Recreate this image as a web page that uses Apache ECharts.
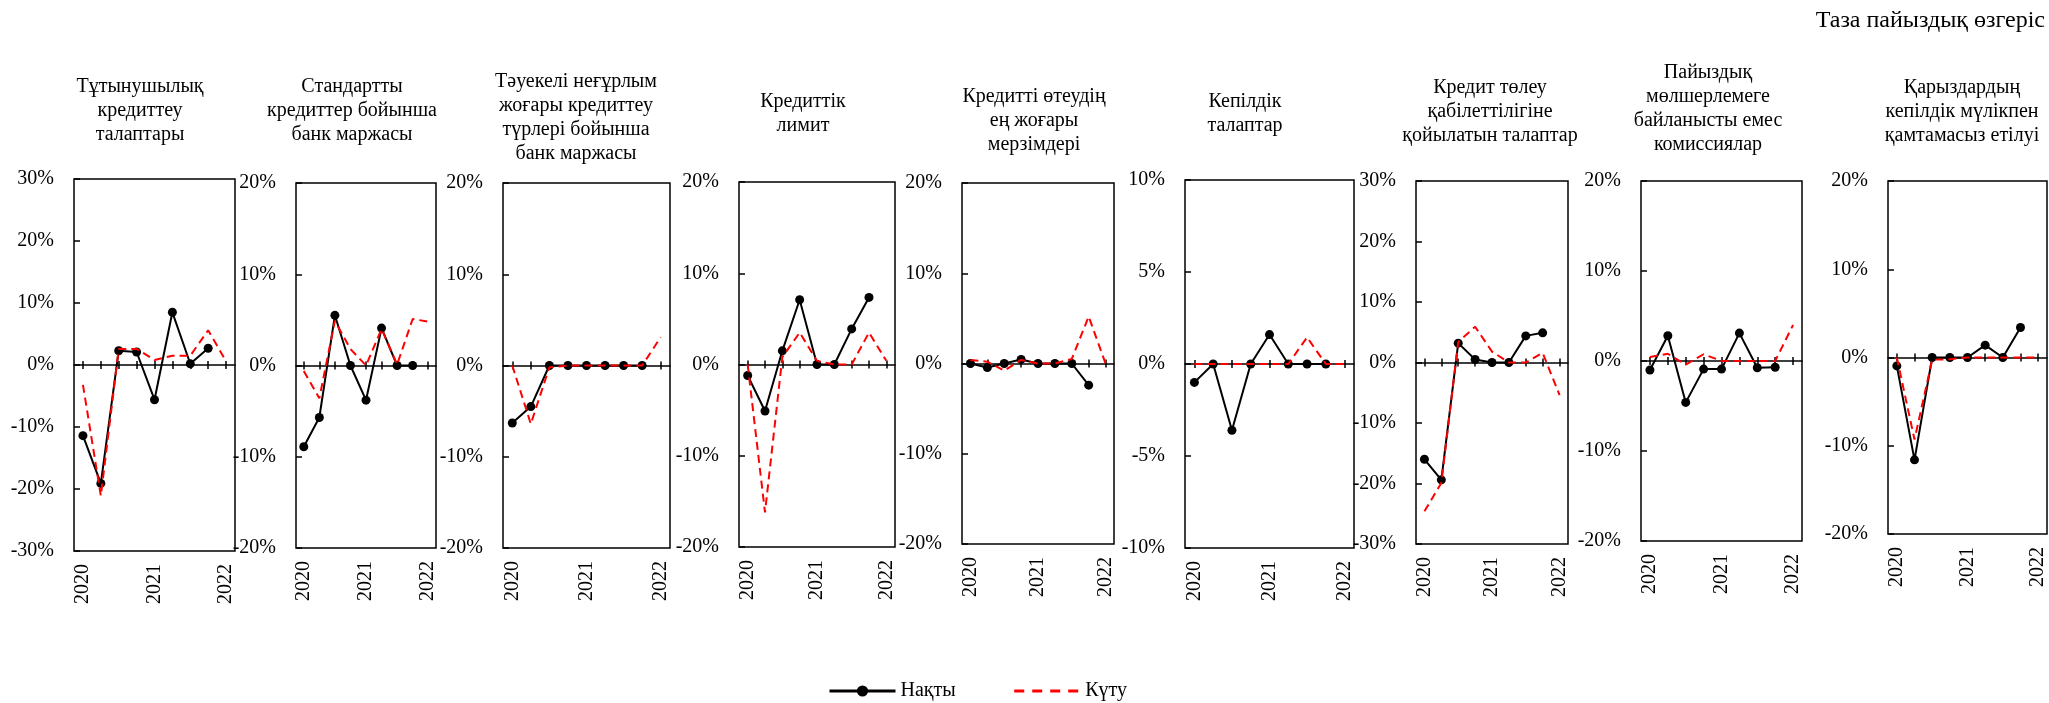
<!DOCTYPE html>
<html>
<head>
<meta charset="utf-8">
<script src="https://cdn.jsdelivr.net/npm/echarts@6/dist/echarts.min.js"></script>
<style>
  html, body { margin: 0; padding: 0; background: #fff; }
  #chart { width: 2049px; height: 703px; }
</style>
</head>
<body>
<div id="chart"></div>
<script>
const quarters = ['2020 Q1', '2020 Q2', '2020 Q3', '2020 Q4', '2021 Q1', '2021 Q2', '2021 Q3', '2021 Q4', '2022 Q1'];
const yearTicks = ['2020', '', '', '', '2021', '', '', '', '2022'];

const panelTitles = [
  'Тұтынушылық\nкредиттеу\nталаптары',
  'Стандартты\nкредиттер бойынша\nбанк маржасы',
  'Тәуекелі неғұрлым\nжоғары кредиттеу\nтүрлері бойынша\nбанк маржасы',
  'Кредиттік\nлимит',
  'Кредитті өтеудің\nең жоғары\nмерзімдері',
  'Кепілдік\nталаптар',
  'Кредит төлеу\nқабілеттілігіне\nқойылатын талаптар',
  'Пайыздық\nмөлшерлемеге\nбайланысты емес\nкомиссиялар',
  'Қарыздардың\nкепілдік мүлікпен\nқамтамасыз етілуі'
];

const axisMin = [-30, -20, -20, -20, -20, -10, -30, -20, -20];
const axisMax = [30, 20, 20, 20, 20, 10, 30, 20, 20];
const axisStep = [10, 10, 10, 10, 10, 5, 10, 10, 10];

// фактілер (8 тоқсан) және күтулер (9 тоқсан), %
const consumerActual = [-11.4, -19.1, 2.3, 2.1, -5.6, 8.5, 0.2, 2.7];
const consumerExpected = [-3.2, -21.1, 2.6, 2.6, 0.8, 1.5, 1.5, 5.6, 0.6];
const marginActual = [-8.9, -5.7, 5.5, 0, -3.8, 4.1, 0, 0];
const marginExpected = [-0.6, -3.6, 4.9, 1.8, 0, 4.0, 0.1, 5.1, 4.8];
const riskyActual = [-6.3, -4.5, 0, 0, 0, 0, 0, 0];
const riskyExpected = [0, -6.4, -0.2, 0, 0, 0, 0, 0, 3.1];
const limitActual = [-1.2, -5.1, 1.5, 7.1, 0, 0, 3.9, 7.35];
const limitExpected = [0, -16.2, 0.8, 3.5, 0.4, 0, 0, 3.5, 0.4];
const maturityActual = [0, -0.45, 0, 0.45, 0, 0, 0, -2.4];
const maturityExpected = [0.4, 0.2, -0.8, 0.4, 0, 0, 0.5, 5.2, 0];
const collateralActual = [-1.0, 0, -3.6, 0, 1.6, 0, 0, 0];
const collateralExpected = [0, 0, 0, 0, 0, 0, 1.45, 0, 0];
const solvencyActual = [-16.0, -19.4, 3.2, 0.5, 0, 0, 4.4, 4.9];
const solvencyExpected = [-24.6, -19.9, 3.4, 5.9, 1.8, 0, 0, 1.6, -5.4];
const feesActual = [-1.0, 2.8, -4.6, -0.9, -0.9, 3.1, -0.75, -0.7];
const feesExpected = [0.45, 0.8, -0.4, 0.75, 0, 0, 0, 0, 4.0];
const securedActual = [-0.95, -11.6, 0, 0, 0, 1.4, 0, 3.4];
const securedExpected = [0, -9.3, -0.25, -0.2, 0, 0, 0, 0, 0];

const actualData = [consumerActual, marginActual, riskyActual, limitActual, maturityActual,
  collateralActual, solvencyActual, feesActual, securedActual];
const expectedData = [consumerExpected, marginExpected, riskyExpected, limitExpected, maturityExpected,
  collateralExpected, solvencyExpected, feesExpected, securedExpected];

// plot boxes: [left, top, width, height]
const boxes = [
  [74, 179, 161, 372],
  [296, 183, 140, 365],
  [503, 183, 167, 365],
  [739, 182, 156, 365],
  [962, 183, 152, 361],
  [1185, 180, 169, 368],
  [1416, 181, 152, 363],
  [1641, 181, 161, 360],
  [1888, 181, 159, 353]
];
// title centre x, first line centre y
const titlePos = [[140, 87], [352, 87], [576, 82], [803, 102], [1034, 97], [1245, 102], [1490, 88], [1708, 73], [1962, 88]];

const FONT = "'Liberation Serif', 'DejaVu Serif', serif";
const chart = echarts.init(document.getElementById('chart'));

const grid = [], xAxis = [], yAxis = [], series = [], graphic = [];

boxes.forEach((b, i) => {
  grid.push({
    left: b[0], top: b[1], width: b[2], height: b[3],
    show: true, borderColor: '#000', borderWidth: 1.5, backgroundColor: 'transparent',
    containLabel: false, outerBoundsMode: 'none'
  });
  // year labels at the bottom of the box
  xAxis.push({
    type: 'category', gridIndex: i, data: quarters, boundaryGap: true, position: 'bottom',
    axisLine: { show: false, onZero: false },
    axisTick: { show: false },
    splitLine: { show: false },
    axisLabel: {
      interval: 0, rotate: 90, margin: 13, color: '#000',
      fontFamily: FONT, fontSize: 20,
      formatter: (v, idx) => yearTicks[idx]
    }
  });
  // zero line, ticks pointing up
  xAxis.push({
    type: 'category', gridIndex: i, data: quarters, boundaryGap: true, position: 'top',
    axisLine: { show: true, onZero: true, onZeroAxisIndex: i, lineStyle: { color: '#000', width: 1.5 } },
    axisTick: { show: true, alignWithLabel: true, interval: 0, length: 4, lineStyle: { color: '#000', width: 1.5 } },
    axisLabel: { show: false },
    splitLine: { show: false }
  });
  // zero line, ticks pointing down
  xAxis.push({
    type: 'category', gridIndex: i, data: quarters, boundaryGap: true, position: 'bottom',
    axisLine: { show: false, onZero: true, onZeroAxisIndex: i },
    axisTick: { show: true, alignWithLabel: true, interval: 0, length: 4, lineStyle: { color: '#000', width: 1.5 } },
    axisLabel: { show: false },
    splitLine: { show: false }
  });
  yAxis.push({
    type: 'value', gridIndex: i, position: 'left',
    min: axisMin[i], max: axisMax[i], interval: axisStep[i],
    axisLine: { show: false },
    axisTick: { show: true, inside: true, length: 6, lineStyle: { color: '#000', width: 1.5 } },
    splitLine: { show: false },
    axisLabel: { formatter: '{value}%', color: '#000', fontFamily: FONT, fontSize: 20, margin: 20 }
  });
  series.push({
    name: 'Нақты', type: 'line', xAxisIndex: i * 3, yAxisIndex: i,
    data: actualData[i],
    symbol: 'circle', symbolSize: 9,
    itemStyle: { color: '#000' },
    lineStyle: { color: '#000', width: 2 },
    z: 3, animation: false
  });
  series.push({
    name: 'Күту', type: 'line', xAxisIndex: i * 3, yAxisIndex: i,
    data: expectedData[i],
    symbol: 'none', showSymbol: false,
    itemStyle: { color: '#ff0000' },
    lineStyle: { color: '#ff0000', width: 2, type: [8, 5] },
    z: 4, animation: false
  });
  graphic.push({
    type: 'text', x: titlePos[i][0], y: titlePos[i][1] - 12,
    style: {
      text: panelTitles[i], fill: '#000', font: '20px ' + FONT,
      align: 'center', verticalAlign: 'top', lineHeight: 24
    }
  });
});

graphic.push({
  type: 'text', x: 2045, y: 9,
  style: { text: 'Таза пайыздық өзгеріс', fill: '#000', font: '24px ' + FONT, align: 'right', verticalAlign: 'top' }
});

chart.setOption({
  animation: false,
  backgroundColor: '#fff',
  grid, xAxis, yAxis, series, graphic,
  legend: {
    data: [
      { name: 'Нақты', lineStyle: { width: 3 } },
      { name: 'Күту', itemStyle: { color: 'transparent', borderWidth: 0 }, lineStyle: { width: 3, type: [10, 8] } }
    ],
    left: 823, top: 676,
    itemWidth: 66, itemHeight: 14, itemGap: 57,
    textStyle: { color: '#000', fontFamily: FONT, fontSize: 20 }
  }
});
</script>
</body>
</html>
